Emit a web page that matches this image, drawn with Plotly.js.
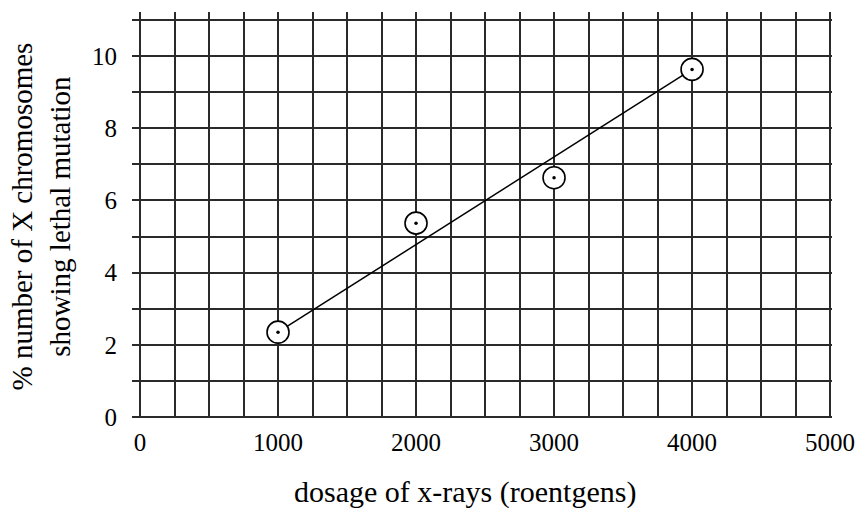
<!DOCTYPE html>
<html>
<head>
<meta charset="utf-8">
<script src="https://cdn.plot.ly/plotly-3.0.1.min.js"></script>
<style>html,body{margin:0;padding:0;background:#fff;}#chart{width:862px;height:508px;}</style>
</head>
<body>
<div id="chart"></div>
<script>
const dosage = [1000, 2000, 3000, 4000];
const mutationPct = [2.35, 5.37, 6.63, 9.63];
const fitX = [1000, 4000];
const fitY = [2.35, 9.63];
const xTickVals = [0, 1000, 2000, 3000, 4000, 5000];
const yTickVals = [0, 2, 4, 6, 8, 10];
const xTitle = 'dosage of x-rays (roentgens)';
const yTitle = '% number of X chromosomes<br>showing lethal mutation';

const font = "Liberation Serif, Times New Roman, Times, serif";
const gridCol = '#2a2a2a';
const gw = 2;

const traces = [
  {x: fitX, y: fitY, mode: 'lines', line: {color: '#000', width: 1.5}, hoverinfo: 'skip', showlegend: false},
  {x: dosage, y: mutationPct, mode: 'markers', marker: {symbol: 'circle', size: 22, color: '#fff', line: {color: '#000', width: 1.6}}, showlegend: false},
  {x: dosage, y: mutationPct, mode: 'markers', marker: {symbol: 'circle', size: 3.5, color: '#000'}, showlegend: false}
];

const layout = {
  width: 862, height: 508,
  margin: {l: 132, r: 30, t: 12, b: 91},
  paper_bgcolor: '#fff', plot_bgcolor: '#fff',
  showlegend: false,
  font: {family: font, color: '#000', size: 20},
  xaxis: {
    range: [-58, 5014],
    tickvals: xTickVals, ticktext: xTickVals.map(String),
    showgrid: true, gridcolor: gridCol, gridwidth: gw,
    minor: {dtick: 250, showgrid: true, gridcolor: gridCol, gridwidth: gw},
    zeroline: true, zerolinecolor: gridCol, zerolinewidth: gw,
    showline: false, ticks: '',
    ticklabelstandoff: 8,
    tickfont: {family: font, size: 25, color: '#000'}
  },
  yaxis: {
    range: [0, 11.22],
    tickvals: yTickVals, ticktext: yTickVals.map(String),
    showgrid: true, gridcolor: gridCol, gridwidth: gw,
    minor: {dtick: 1, showgrid: true, gridcolor: gridCol, gridwidth: gw},
    zeroline: true, zerolinecolor: gridCol, zerolinewidth: gw,
    showline: false, ticks: '',
    ticklabelstandoff: 14,
    tickfont: {family: font, size: 25, color: '#000'}
  },
  annotations: [
    {text: xTitle, xref: 'paper', yref: 'paper', x: 0.475, y: -0.185, xanchor: 'center', yanchor: 'middle', showarrow: false, font: {family: font, size: 30, color: '#000'}},
    {text: yTitle, xref: 'paper', yref: 'paper', x: -0.13, y: 0.495, xanchor: 'center', yanchor: 'middle', textangle: -90, showarrow: false, font: {family: font, size: 29, color: '#000'}}
  ]
};

Plotly.newPlot('chart', traces, layout, {displayModeBar: false, staticPlot: true});
</script>
</body>
</html>
